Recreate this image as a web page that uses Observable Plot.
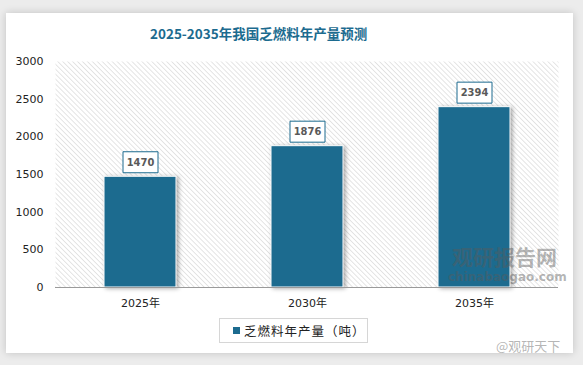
<!DOCTYPE html>
<html>
<head>
<meta charset="utf-8">
<script src="https://cdn.jsdelivr.net/npm/d3@7"></script>
<script src="https://cdn.jsdelivr.net/npm/@observablehq/plot@0.6"></script>
<style>
  html, body { margin: 0; padding: 0; }
  body { width: 583px; height: 365px; background: #ececec; position: relative; overflow: hidden; font-family: "Noto Sans CJK SC", "DejaVu Sans", sans-serif; }
  #card { position: absolute; left: 6px; top: 13px; width: 567px; height: 340px; background: #fff; box-shadow: 0 0 8px rgba(0,0,0,0.18); }
  #title { position: absolute; left: 150px; top: 23px; font-size: 13.5px; font-weight: bold; color: #1c6b8f; white-space: nowrap; font-family: "Noto Sans CJK SC", sans-serif; }
  #chart { position: absolute; left: 6px; top: 50px; }
  #legend { position: absolute; left: 219px; top: 318px; width: 149px; height: 25px; border: 1px solid #d6d6d6; box-sizing: border-box; display: flex; align-items: center; font-size: 12.5px; color: #222; letter-spacing: 1px; font-family: "Noto Sans CJK SC", sans-serif; }
  #legend .sw { display: inline-block; width: 7px; height: 7px; background: #1c6b8f; margin-left: 13px; margin-right: 4px; }
  .wm { position: absolute; white-space: nowrap; color: rgba(90,90,90,0.45); font-family: "Noto Sans CJK SC", sans-serif; font-weight: bold; line-height: 1; }
  #chart g[aria-label="bar"] rect { filter: drop-shadow(2px 1px 2px rgba(0,0,0,0.35)); }
</style>
</head>
<body>
<div id="card"></div>
<div id="title">2025-2035年我国乏燃料年产量预测</div>
<div id="chart"></div>
<div id="legend"><span class="sw"></span><span>乏燃料年产量（吨）</span></div>
<div class="wm" style="left:452px; top:246px; font-size:21px;">观研报告网</div>
<div class="wm" style="left:448px; top:271px; font-size:12px; font-family:'DejaVu Sans',sans-serif;">chinabaogao.com</div>
<div class="wm" style="left:496px; top:339px; font-size:13px; font-weight:normal; color:rgba(150,150,150,0.7);">@观研天下</div>
<script>
const years = ["2025年", "2030年", "2035年"];
const production = [1470, 1876, 2394];
const yTicks = [0, 500, 1000, 1500, 2000, 2500, 3000];

const data = years.map((y, i) => ({year: y, value: production[i]}));
const barColor = "#1c6b8f";

const boxSymbol = {
  draw(context) { context.rect(-17.5, -10.5, 35, 21); }
};

const plot = Plot.plot({
  width: 567,
  height: 262,
  marginLeft: 49,
  marginRight: 15,
  marginTop: 11,
  marginBottom: 25,
  style: {fontFamily: "'DejaVu Sans', 'Noto Sans CJK SC', sans-serif", fontSize: "11px", color: "#222", background: "transparent"},
  x: {domain: years, paddingInner: 0.57, paddingOuter: 0.285, label: null},
  y: {domain: [0, 3000], ticks: yTicks, label: null},
  marks: [
    Plot.frame({fill: "url(#hatch)", stroke: "none"}),
    Plot.axisX({tickSize: 0, tickPadding: 12, label: null}),
    Plot.axisY({ticks: yTicks, tickFormat: d => String(d), tickSize: 0, tickPadding: 12, label: null}),
    Plot.barY(data, {x: "year", y: "value", fill: barColor, stroke: "#fff", strokeWidth: 1}),
    Plot.ruleY([0], {stroke: "#9a9a9a", strokeWidth: 1.2}),
    Plot.dot(data, {x: "year", y: "value", dy: -14.5, symbol: boxSymbol, fill: "#fff", stroke: barColor, strokeWidth: 1}),
    Plot.text(data, {x: "year", y: "value", dy: -14.5, text: d => String(d.value), fill: "#595959", fontWeight: "bold", fontSize: 11, fontFamily: "'DejaVu Sans Condensed', 'DejaVu Sans', sans-serif"})
  ]
});

const svg = d3.select(plot);
const defs = svg.insert("defs", ":first-child");
const pat = defs.append("pattern")
  .attr("id", "hatch")
  .attr("patternUnits", "userSpaceOnUse")
  .attr("width", 3.5).attr("height", 3.5)
  .attr("patternTransform", "rotate(-45)");
pat.append("rect").attr("width", 3.5).attr("height", 3.5).attr("fill", "#fff");
pat.append("line").attr("x1", 0).attr("y1", 0).attr("x2", 0).attr("y2", 3.5)
  .attr("stroke", "#d4d4d4").attr("stroke-width", 1.2);

document.getElementById("chart").appendChild(plot);
</script>
</body>
</html>
